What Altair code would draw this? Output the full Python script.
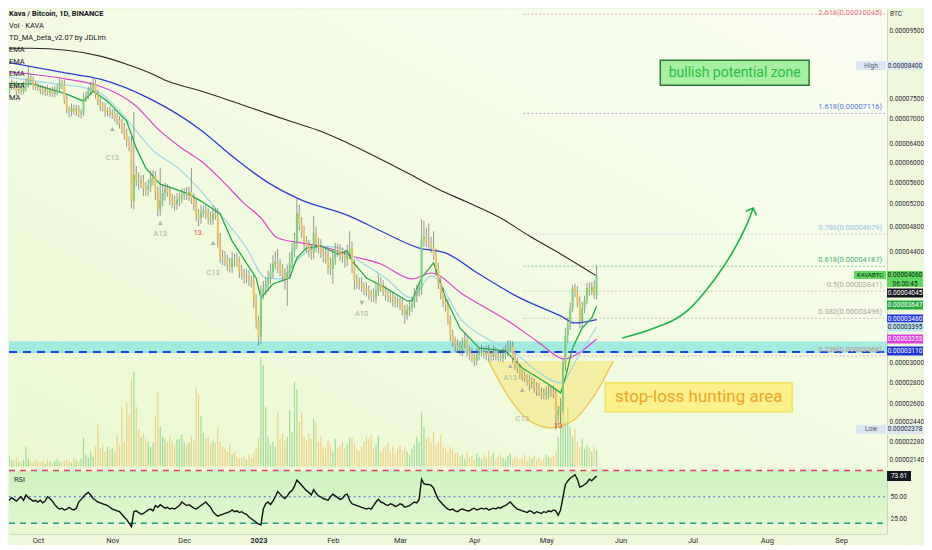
import altair as alt
import pandas as pd

SAT = 1e-8  # values below are in satoshi (1e-8 BTC)

# ---------------- daily candles (Sep 16 2022 -> May 22 2023) ----------------
START = "2022-09-16"
first_open = 7650
closes = [
    7700, 7760, 7650, 7800, 7880, 7820, 7700, 7740, 7680, 7790, 7900, 8050, 7980, 7850, 7800,
    7780, 7720, 7690, 7740, 7650, 7700, 7620, 7680, 7750, 7900,
    7860, 7450, 7200, 7150, 7250, 7180, 7220, 7100, 7130, 7500,
    7560, 7700, 7780, 7900, 7600, 7420, 7300, 7250, 7150, 7180,
    7100, 7120, 7000, 6950, 6880, 6750, 6600, 6450, 6380,
    5250, 5750, 5650, 5600, 5620, 5500, 5470, 5520, 5680, 5720,
    5400, 5100, 5260, 5400, 5480, 5420, 5300, 5250, 5190, 5280,
    5310, 5360, 5400, 5380, 5420, 5300, 5200, 5000, 4950, 5050,
    5080, 5040, 4960, 4930, 5020, 5000, 4600, 4340, 4300, 4280,
    4220, 4180, 4300, 4290, 4250, 4110, 4080, 4040, 4050, 3990,
    3970, 3720, 3470, 3280,
    3800, 3880, 3940, 4020, 4110, 4220, 4250, 4200, 4140, 4060,
    4010, 4100, 4240, 4420, 4560, 5030, 4850, 4720, 4560, 4480,
    4420, 4390, 4690, 4520, 4470, 4400, 4360, 4330, 4200, 4150,
    4300, 4440, 4410, 4380, 4330, 4290, 4380, 4460, 4200, 3990,
    3960, 3940, 3900, 3880, 3850, 3800, 3790, 3760, 3850, 3950,
    3900, 3840, 3800, 3770, 3750, 3730, 3700, 3690, 3680, 3600,
    3540, 3600, 3640, 3680, 3780, 3860, 3890, 4600, 4640, 4560,
    4520, 4480, 4350, 4150, 3950, 3820, 3700, 3660, 3480, 3300,
    3230, 3180, 3150, 3140, 3200, 3240, 3120, 3090, 3050, 3020,
    3080, 3100, 3110, 3090, 3120, 3070, 3060, 3100, 3080, 3060,
    3050, 3090, 3110, 3150, 3170, 3050, 2990, 2940, 2890, 2860,
    2840, 2820, 2780, 2800, 2750, 2730, 2710, 2690, 2680, 2700,
    2720, 2710, 2690, 2500, 2540, 2580, 2990, 3300, 3420, 3620,
    3880, 3820, 3700, 3460, 3620, 3720, 3880, 3850, 3900, 3790,
    4060,
]
wick_up = [
    120, 90, 150, 110, 130, 80, 140, 100, 90, 160, 140, 350, 120, 100, 90,
    110, 80, 130, 70, 120, 90, 100, 150, 120, 140,
    100, 130, 150, 90, 120, 80, 110, 100, 90, 140,
    120, 100, 150, 180, 110, 130, 90, 100, 120, 80,
    110, 100, 90, 120, 100, 110, 130, 150, 120,
    200, 1400, 180, 150, 120, 130, 110, 140, 160, 120,
    100, 120, 620, 150, 120, 90, 110, 80, 100, 120,
    100, 120, 90, 110, 100, 470, 90, 100, 110, 130,
    90, 120, 80, 100, 150, 110, 120, 100, 90, 110,
    80, 90, 100, 70, 90, 80, 100, 70, 90, 80,
    70, 90, 80, 60,
    120, 100, 90, 110, 120, 130, 160, 200, 90, 80,
    100, 110, 150, 120, 140, 260, 150, 120, 100, 90,
    110, 100, 290, 120, 100, 130, 90, 110, 100, 120,
    140, 100, 90, 110, 90, 100, 130, 270, 100, 90,
    80, 70, 90, 60, 80, 70, 60, 90, 100, 120,
    80, 90, 70, 60, 80, 70, 60, 70, 60, 80,
    60, 70, 80, 90, 100, 70, 80, 330, 260, 150,
    300, 120, 250, 100, 90, 80, 70, 60, 70, 50,
    60, 50, 70, 80, 70, 90, 60, 50, 60, 50,
    70, 60, 80, 50, 60, 70, 50, 80, 60, 50,
    60, 70, 80, 90, 70, 60, 50, 60, 50, 40,
    50, 40, 60, 50, 40, 50, 60, 40, 50, 60,
    50, 40, 60, 50, 40, 70, 60, 80, 90, 70,
    40, 60, 90, 70, 80, 60, 70, 80, 60, 90,
    140,
]
wick_dn = [
    100, 130, 90, 120, 80, 110, 140, 90, 100, 80, 110, 120, 100, 130, 90,
    90, 110, 100, 130, 80, 120, 90, 100, 110, 80,
    120, 100, 90, 140, 110, 100, 130, 90, 110, 80,
    100, 90, 120, 80, 110, 100, 130, 90, 120, 100,
    90, 110, 100, 120, 130, 110, 100, 120, 140,
    130, 150, 120, 140, 110, 160, 130, 120, 100, 140,
    130, 120, 110, 100, 140, 90, 120, 130, 110, 100,
    120, 100, 90, 110, 130, 100, 120, 110, 140, 100,
    90, 110, 120, 100, 90, 80, 130, 110, 100, 90,
    100, 80, 90, 110, 70, 90, 80, 100, 90, 80,
    80, 90, 100, 100,
    80, 70, 90, 100, 80, 90, 70, 110, 100, 90,
    150, 360, 80, 90, 100, 120, 110, 100, 120, 90,
    100, 110, 90, 120, 100, 90, 110, 100, 130, 90,
    210, 90, 80, 110, 90, 120, 100, 90, 110, 130,
    90, 80, 70, 90, 80, 70, 90, 60, 80, 70,
    70, 60, 80, 70, 60, 90, 70, 60, 80, 70,
    110, 60, 80, 70, 60, 80, 90, 100, 120, 90,
    80, 90, 70, 100, 80, 90, 70, 80, 60, 70,
    60, 70, 50, 60, 70, 50, 60, 70, 50, 60,
    50, 60, 40, 50, 70, 60, 50, 40, 60, 50,
    40, 50, 60, 50, 40, 60, 70, 50, 60, 50,
    40, 50, 60, 40, 50, 60, 40, 50, 40, 50,
    60, 50, 40, 122, 90, 110, 60, 80, 90, 60,
    50, 60, 70, 80, 80, 60, 50, 70, 60, 50,
    60,
]
volumes = [
    6, 9, 5, 11, 7, 6, 9, 5, 4, 7, 20, 8, 6, 5, 7,
    5, 4, 6, 3, 7, 5, 4, 6, 8, 5, 4, 6, 7, 5, 4, 9,
    6, 5, 8, 29,
    12, 9, 15, 10, 20, 42, 18, 22,
    15, 20, 17, 19, 16, 32, 22, 59,
    25, 64, 52, 88, 95, 60, 37,
    30, 33, 28, 25, 20, 24, 51, 75,
    40, 30, 28, 25, 30, 26, 22, 27,
    28, 32, 25, 22, 24, 30, 26,
    80, 72, 51, 34, 28,
    30, 22, 26, 24, 40, 25, 20, 18, 15, 22,
    12, 15, 10, 8, 9, 10, 7, 12, 9, 14, 18,
    29, 110, 102, 60,
    30, 22, 25, 20, 54, 28, 33, 26, 30, 57, 35, 85, 78, 45, 54, 30, 26, 33, 28, 48, 44,
    25, 30, 20, 18, 26, 22, 15, 28, 18, 21, 25, 19, 23, 29,
    29, 24, 18, 16, 20, 25, 30, 28, 32, 18,
    22, 30, 15, 18, 20, 24, 15, 20, 13, 18, 22, 16, 20, 15, 12, 18,
    22, 30, 25, 54, 40, 28, 30, 24, 35,
    22, 25, 32, 20, 18, 15, 20, 17, 13,
    14, 10, 12, 8, 15, 9, 11, 7, 13, 10, 8, 12, 9, 16, 11, 14, 8, 10, 12, 9, 7, 11, 13, 8, 10, 9,
    7, 9, 12, 6, 10, 8, 11, 7, 9, 6, 8, 12, 10, 9, 11, 15,
    30, 65, 70, 45, 60, 40,
    30, 38, 25, 20, 28, 18, 22, 19, 15, 20, 17,
]
rsi_values = [
    40, 37, 44, 46, 49, 47, 45, 48, 50, 46, 52, 49, 47, 45, 46,
    44, 46, 43, 45, 50, 48, 45, 41, 38, 36, 37, 35, 36, 38, 36, 35,
    37, 44, 47, 50, 53, 55, 52, 48, 46,
    44, 43, 42, 41, 40, 38, 36, 35, 34, 33, 30,
    27, 24, 20, 16, 33, 34,
    32, 30, 31, 33, 35, 36, 34, 40, 38,
    41, 39, 37, 38, 36, 37, 36, 38,
    40, 44, 42, 40, 41, 39, 37,
    36, 38, 40, 42, 44, 41, 38,
    33, 30, 28, 29, 30, 31, 32, 33,
    35, 33, 34, 32, 33, 31, 30,
    27, 25, 23, 21, 19, 18,
    36, 42, 44, 41, 45, 50, 56,
    53, 50, 48, 51, 55, 57,
    62, 69, 66, 63, 60, 57,
    55, 52, 58, 54, 51, 50,
    48, 47, 46, 50, 53, 51, 49, 47,
    48, 52, 53, 46, 42,
    41, 40, 39, 38, 37, 36, 37, 36, 40, 44, 47,
    44, 43, 41, 40, 42, 41, 39, 40, 42, 41, 38, 39,
    40, 42, 44, 43, 47,
    70, 65, 64, 64, 63, 60,
    53, 47, 44, 41, 38, 36, 35,
    36, 34, 33, 35, 36, 35, 34, 34, 36, 37, 35, 36, 37, 36, 37, 35, 36, 37, 36, 38,
    37, 39, 40, 42, 44, 41, 38, 36,
    35, 34, 33, 32, 34, 33, 31, 33, 32, 31, 33, 32, 34, 33, 35, 34,
    29, 35, 50, 64, 68, 71, 73,
    75, 70, 61, 62, 64, 66, 70, 68, 71, 73.61,
]

# ---------------- moving averages ----------------
ema200_dates = ["2022-09-16", "2022-09-28", "2022-10-13", "2022-10-27", "2022-11-07", "2022-11-17",
                "2022-11-24", "2022-12-08", "2022-12-21", "2023-01-02", "2023-01-14", "2023-01-27",
                "2023-02-08", "2023-02-21", "2023-03-05", "2023-03-17", "2023-03-28", "2023-04-12",
                "2023-04-24", "2023-05-07", "2023-05-22"]
ema200_vals = [8920, 8920, 8860, 8680, 8440, 8180, 7960, 7690, 7420, 7170, 6930, 6690,
               6400, 6070, 5765, 5470, 5250, 4950, 4650, 4370, 4050]

ema100_dates = ["2022-09-16", "2022-10-13", "2022-10-27", "2022-11-17", "2022-12-08", "2022-12-21",
                "2023-01-04", "2023-01-18", "2023-02-08", "2023-02-21", "2023-03-09", "2023-03-20",
                "2023-04-03", "2023-04-20", "2023-05-07", "2023-05-13", "2023-05-22"]
ema100_vals = [8528, 8181, 8014, 7476, 6714, 6136, 5627, 5287, 4984, 4732, 4461, 4385,
               4076, 3752, 3525, 3440, 3480]

ema50_dates = ["2022-09-16", "2022-10-13", "2022-10-27", "2022-11-10", "2022-11-21", "2022-11-30",
               "2022-12-08", "2022-12-17", "2022-12-25", "2023-01-02", "2023-01-09", "2023-01-22",
               "2023-01-30", "2023-02-09", "2023-02-21", "2023-03-06", "2023-03-14", "2023-03-27",
               "2023-04-17", "2023-04-27", "2023-05-09", "2023-05-14", "2023-05-22"]
ema50_vals = [8238, 8014, 7820, 7347, 6691, 6308, 6031, 5627, 5250, 4950, 4619, 4523,
              4461, 4339, 4221, 4008, 4091, 3804, 3428, 3232, 3037, 3090, 3253]

ema21_dates = ["2022-09-16", "2022-10-06", "2022-10-23", "2022-10-27", "2022-11-03", "2022-11-11",
               "2022-11-17", "2022-11-30", "2022-12-08", "2022-12-16", "2022-12-27", "2023-01-04",
               "2023-01-10", "2023-01-18", "2023-01-27", "2023-02-04", "2023-02-12", "2023-02-23",
               "2023-03-06", "2023-03-14", "2023-03-27", "2023-04-08", "2023-04-17", "2023-04-27",
               "2023-05-07", "2023-05-14", "2023-05-22"]
ema21_vals = [8097, 7902, 7739, 7632, 7246, 6691, 6308, 5825, 5435, 5019, 4461, 4021,
              4008, 4310, 4492, 4461, 4265, 4021, 3752, 4049, 3464, 3232, 3122, 2913,
              2795, 3047, 3395]

td_ma_dates = ["2022-09-16", "2022-09-29", "2022-10-13", "2022-10-20", "2022-10-24", "2022-10-30",
               "2022-11-07", "2022-11-11", "2022-11-15", "2022-11-21", "2022-11-26", "2022-12-03",
               "2022-12-08", "2022-12-16", "2022-12-21", "2022-12-31", "2023-01-02", "2023-01-07",
               "2023-01-14", "2023-01-17", "2023-01-21", "2023-01-27", "2023-02-03", "2023-02-07",
               "2023-02-09", "2023-02-15", "2023-02-23", "2023-03-04", "2023-03-06", "2023-03-10",
               "2023-03-15", "2023-03-20", "2023-03-26", "2023-04-03", "2023-04-14", "2023-04-21",
               "2023-05-01", "2023-05-07", "2023-05-09", "2023-05-12", "2023-05-16", "2023-05-20",
               "2023-05-22"]
td_ma_vals = [7902, 7875, 7607, 7424, 7685, 7424, 6927, 6308, 5886, 5569, 5492, 5379,
              5250, 5019, 4570, 4021, 3752, 3938, 4021, 4310, 4461, 4492, 4369, 4415,
              4265, 4021, 3885, 3713, 3713, 4021, 4236, 3752, 3381, 3155, 3122, 2943,
              2795, 2699, 2843, 3155, 3381, 3500, 3647]

# ---------------- fibonacci & levels ----------------
fib_levels = ["2.618", "1.618", "0.786", "0.618", "0.5", "0.382", "0.236"]
fib_prices = [10045, 7116, 4679, 4187, 3841, 3496, 3068]
fib_colors = ["#ef6b8a", "#5577dd", "#8fc3ea", "#45ad78", "#9bb58a", "#a3a99c", "#c99090"]
fib_start = "2023-04-21T12:00:00Z"
fib_end = "2023-09-20T04:00:00Z"
support_band = [3100, 3225]
support_line = 3110

# ---------------- annotations ----------------
bowl_dates = ["2023-04-07", "2023-04-10", "2023-04-14", "2023-04-18", "2023-04-24", "2023-05-03",
              "2023-05-12", "2023-05-18", "2023-05-22", "2023-05-26", "2023-05-29"]
bowl_low = [3016, 2873, 2709, 2581, 2450, 2391, 2450, 2581, 2709, 2873, 3016]
bowl_top = 3016

arrow_dates = ["2023-06-01T18:00:00Z", "2023-06-14T00:00:00Z", "2023-06-28T19:00:00Z",
               "2023-07-09T17:00:00Z", "2023-07-18T00:00:00Z", "2023-07-24T06:00:00Z",
               "2023-07-26T08:00:00Z"]
arrow_prices = [3266, 3369, 3586, 3979, 4415, 4898, 5124]

td_text = ["▲", "C13", "▲", "A13", "13.", "▲", "C13", "▼", "A10", "▲", "A13", "▲", "C13", "13"]
td_dates = ["2022-11-01", "2022-11-01", "2022-11-21", "2022-11-21", "2022-12-07", "2022-12-13",
            "2022-12-13", "2023-02-13", "2023-02-13", "2023-04-16", "2023-04-16", "2023-04-21",
            "2023-04-21", "2023-05-06"]
td_prices = [6737, 6094, 4864, 4683, 4699, 4539, 4091, 3688, 3549, 2965, 2843, 2727, 2467, 2408]
td_colors = ["#a7b2a3", "#a7b2a3", "#a7b2a3", "#a7b2a3", "#e5483f", "#a7b2a3", "#a7b2a3",
             "#a7b2a3", "#a7b2a3", "#a7b2a3", "#a7b2a3", "#a7b2a3", "#a7b2a3", "#e5483f"]

note_text = ["bullish potential zone", "stop-loss hunting area"]
note_dates = ["2023-07-18T15:00:00Z", "2023-07-03T15:00:00Z"]
note_prices = [8195, 2658]

legend_lines = ["Kava / Bitcoin, 1D, BINANCE", "Vol · KAVA", "TD_MA_beta_v2.07 by JDLim",
                "EMA", "EMA", "EMA", "EMA", "MA"]

price_ticks = [2140, 2280, 2440, 2600, 2800, 3000, 4400, 4800, 5200, 5600, 6000, 6400, 7000, 7500, 9500]

# right-hand price tags: shown value, drawn position
tag_text = ["0.00004045", "0.00003647", "0.00003480", "0.00003395", "0.00003253", "0.00003110"]
tag_pos = [3818, 3662, 3488, 3395, 3254, 3122]
tag_bg = ["#131722", "#22ab3f", "#2437e0", "#b9e4f3", "#e03ddf", "#1f35d8"]
tag_fg = ["#ffffff", "#ffffff", "#ffffff", "#1a1a1a", "#ffffff", "#ffffff"]
last_price = 4060
last_price_pos = [4007, 4063, 3938]
high_price, low_price = 8400, 2378
rsi_levels = [80, 50, 20]
rsi_last = 73.61

# ---------------- build tables ----------------
dates = pd.date_range(START, periods=len(closes), freq="D").strftime("%Y-%m-%d").tolist()
opens = [first_open] + closes[:-1]
highs = [max(o, c) + u for o, c, u in zip(opens, closes, wick_up)]
lows = [min(o, c) - d for o, c, d in zip(opens, closes, wick_dn)]
candles = pd.DataFrame({
    "date": dates,
    "open": [v * SAT for v in opens],
    "close": [v * SAT for v in closes],
    "high": [v * SAT for v in highs],
    "low": [v * SAT for v in lows],
    "dir": ["up" if c >= o else "down" for o, c in zip(opens, closes)],
    "vol": volumes,
    "rsi": rsi_values,
})

FONT = "Roboto"
W, H_PRICE, H_RSI = 879, 458, 64
TAG_X, TAG_W = 897, 36
XS = alt.Scale(type="utc", padding=0,
               domain=[alt.DateTime(year=2022, month=9, date=18, hours=22, utc=True),
                       alt.DateTime(year=2023, month=9, date=20, hours=4, utc=True)])
YS = alt.Scale(type="log", domain=[2.0887e-5, 1.0211e-4], nice=False, zero=False, padding=0)
YAXIS = alt.Axis(orient="right", values=[v * SAT for v in price_ticks], format=".8f", title=None,
                 grid=False, ticks=False, labelFontSize=6.5, labelColor="#2a2e39", labelPadding=2,
                 domainColor="#c9d3bf", labelFont=FONT)


def px(field):
    return alt.X(field, type="temporal", scale=XS, axis=None)


def py(field):
    return alt.Y(field, type="quantitative", scale=YS, axis=YAXIS)


def box_shape(half_h):
    return f"M-1,-{half_h}L1,-{half_h}L1,{half_h}L-1,{half_h}Z"


one = pd.DataFrame({"k": [0]})

# background gradient
bg_grad = alt.LinearGradient(gradient="linear", x1=1, y1=0, x2=0, y2=1,
                             stops=[alt.GradientStop(color="#fafef2", offset=0),
                                    alt.GradientStop(color="#eaf8d2", offset=1)])
bg_price = alt.Chart(one).mark_rect(fill=bg_grad).encode(
    x=alt.value(0), x2=alt.value("width"), y=alt.value(0), y2=alt.value("height"))

# volume
vol_layer = alt.Chart(candles).mark_bar(size=1.2, opacity=0.7, clip=True).encode(
    x=px("date"),
    y=alt.Y("vol:Q", scale=alt.Scale(domain=[0, H_PRICE], padding=0, nice=False), axis=None),
    color=alt.Color("dir:N", scale=alt.Scale(domain=["up", "down"], range=["#7ccf7c", "#f0c060"]), legend=None),
)

band_df = pd.DataFrame({"lo": [support_band[0] * SAT], "hi": [support_band[1] * SAT]})
band = alt.Chart(band_df).mark_rect(color="#86e6df", opacity=0.75).encode(
    x=alt.value(0), x2=alt.value("width"), y=py("lo"), y2="hi")
sup_line = alt.Chart(pd.DataFrame({"p": [support_line * SAT]})).mark_rule(
    color="#1f3fe6", strokeWidth=2, strokeDash=[8, 6]).encode(
    x=alt.value(0), x2=alt.value("width"), y=py("p"))

fib_df = pd.DataFrame({
    "start": [fib_start] * len(fib_levels), "end": [fib_end] * len(fib_levels),
    "p": [v * SAT for v in fib_prices], "c": fib_colors,
    "label": [f"{l}({v * SAT:.8f})" for l, v in zip(fib_levels, fib_prices)],
})
fib_rules = alt.Chart(fib_df).mark_rule(strokeWidth=1, strokeDash=[2, 2], opacity=0.6).encode(
    x=px("start"), x2="end", y=py("p"), color=alt.Color("c:N", scale=None))
# the top label sits flush with the top edge of the panel
fib_text_top = alt.Chart(fib_df.iloc[[0]]).mark_text(align="right", baseline="top", dx=-5, dy=-5,
                                                     fontSize=7.5, font=FONT).encode(
    x=px("end"), y=py("p"), text="label:N", color=alt.Color("c:N", scale=None))
fib_text = alt.Chart(fib_df.iloc[1:]).mark_text(align="right", baseline="bottom", dx=-5, dy=-2,
                                                fontSize=7.5, font=FONT).encode(
    x=px("end"), y=py("p"), text="label:N", color=alt.Color("c:N", scale=None))


def ma_line(ds, vs, color, width=1.2, interp="monotone"):
    df = pd.DataFrame({"date": ds, "p": [v * SAT for v in vs]})
    return alt.Chart(df).mark_line(color=color, strokeWidth=width, interpolate=interp, clip=True).encode(
        x=px("date"), y=py("p"))


ema200 = ma_line(ema200_dates, ema200_vals, "#2b2b2b", 1.1)
ema100 = ma_line(ema100_dates, ema100_vals, "#2c3fd4", 1.3)
ema50 = ma_line(ema50_dates, ema50_vals, "#e23fcf", 1.2)
ema21 = ma_line(ema21_dates, ema21_vals, "#9fd6e6", 1.2)
td_ma = ma_line(td_ma_dates, td_ma_vals, "#1fae45", 1.3, "linear")

DIR_COLORS = alt.Scale(domain=["up", "down"], range=["#3a9a42", "#f05a55"])
wicks = alt.Chart(candles).mark_rule(strokeWidth=0.7, clip=True, color="#707070").encode(
    x=px("date"), y=py("low"), y2="high")
bodies = alt.Chart(candles).mark_bar(size=2.0, clip=True).encode(
    x=px("date"), y=py("open"), y2="close",
    color=alt.Color("dir:N", scale=DIR_COLORS, legend=None))

bowl_df = pd.DataFrame({"date": bowl_dates, "low": [v * SAT for v in bowl_low],
                        "top": [bowl_top * SAT] * len(bowl_dates)})
bowl_area = alt.Chart(bowl_df).mark_area(color="#fae36c", opacity=0.5, interpolate="monotone").encode(
    x=px("date"), y=py("low"), y2="top")
bowl_line = alt.Chart(bowl_df).mark_line(color="#efc04a", strokeWidth=1.2, interpolate="monotone").encode(
    x=px("date"), y=py("low"))

td_df = pd.DataFrame({"date": td_dates, "p": [v * SAT for v in td_prices], "t": td_text, "c": td_colors})
td_labels = alt.Chart(td_df).mark_text(fontSize=7.5, font=FONT).encode(
    x=px("date"), y=py("p"), text="t:N", color=alt.Color("c:N", scale=None))

arrow_df = pd.DataFrame({"date": arrow_dates, "p": [v * SAT for v in arrow_prices]})
arrow = alt.Chart(arrow_df).mark_line(color="#1fb34a", strokeWidth=1.6, interpolate="monotone").encode(
    x=px("date"), y=py("p"))
arrow_head = alt.Chart(arrow_df.tail(1)).mark_point(
    shape="M-0.7,0.7L0,0L0.7,0.7", size=260, filled=False, color="#1fb34a", strokeWidth=1.6,
    angle=21, opacity=1).encode(x=px("date"), y=py("p"))

note_df = pd.DataFrame({"date": note_dates, "p": [v * SAT for v in note_prices], "t": note_text})
bull_box = alt.Chart(note_df.iloc[[0]]).mark_point(
    shape=box_shape(0.168), size=149 ** 2, filled=True, fill="#a9efa2", stroke="#2b7a33",
    strokeWidth=1.5, opacity=1).encode(x=px("date"), y=py("p"))
bull_txt = alt.Chart(note_df.iloc[[0]]).mark_text(fontSize=14, font=FONT, color="#27bf45").encode(
    x=px("date"), y=py("p"), text="t:N")
stop_box = alt.Chart(note_df.iloc[[1]]).mark_point(
    shape=box_shape(0.155), size=187 ** 2, filled=True, fill="#fdf083", stroke="#f3e04c",
    strokeWidth=1.5, opacity=0.9).encode(x=px("date"), y=py("p"))
stop_txt = alt.Chart(note_df.iloc[[1]]).mark_text(fontSize=17, font=FONT, color="#f3a325").encode(
    x=px("date"), y=py("p"), text="t:N")

legend_df = pd.DataFrame({"t": legend_lines, "i": list(range(len(legend_lines)))})
legend_first = alt.Chart(legend_df.iloc[[0]]).mark_text(
    align="left", baseline="middle", fontSize=7.5, fontWeight="bold", font=FONT, color="#131722").encode(
    x=alt.value(0), y=alt.value(5), text="t:N")
legend_rest = [
    alt.Chart(legend_df.iloc[[i]]).mark_text(
        align="left", baseline="middle", fontSize=7.5, font=FONT, color="#131722").encode(
        x=alt.value(0), y=alt.value(5 + 12 * i), text="t:N")
    for i in range(1, len(legend_lines))
]

# right-hand tags
tag_df = pd.DataFrame({"p": [v * SAT for v in tag_pos], "t": tag_text, "bg": tag_bg, "fg": tag_fg})
tag_boxes = alt.Chart(tag_df).mark_point(shape=box_shape(0.25), size=TAG_W ** 2, filled=True, opacity=1).encode(
    x=alt.value(TAG_X), y=py("p"), color=alt.Color("bg:N", scale=None))
tag_texts = alt.Chart(tag_df).mark_text(fontSize=6.5, font=FONT).encode(
    x=alt.value(TAG_X), y=py("p"), text="t:N", color=alt.Color("fg:N", scale=None))

last_df = pd.DataFrame({"p": [v * SAT for v in last_price_pos],
                        "t": ["", f"{last_price * SAT:.8f}", "06:00:45"]})
last_box = alt.Chart(last_df.iloc[[0]]).mark_point(shape=box_shape(0.444), size=TAG_W ** 2, filled=True,
                                                   opacity=1, color="#5fd65f").encode(x=alt.value(TAG_X), y=py("p"))
last_txt = alt.Chart(last_df.iloc[[1, 2]]).mark_text(fontSize=6.5, font=FONT, color="#0c2b0c").encode(
    x=alt.value(TAG_X), y=py("p"), text="t:N")
sym_box = alt.Chart(last_df.iloc[[1]]).mark_point(shape=box_shape(0.25), size=32 ** 2, filled=True,
                                                  opacity=1, color="#5fd65f").encode(x=alt.value(862), y=py("p"))
sym_txt = alt.Chart(pd.DataFrame({"p": [last_price_pos[1] * SAT], "t": ["KAVABTC"]})).mark_text(
    fontSize=6, font=FONT, color="#0c2b0c").encode(x=alt.value(862), y=py("p"), text="t:N")

hl_df = pd.DataFrame({"p": [high_price * SAT, low_price * SAT], "tag": ["High", "Low"],
                      "v": [f"{high_price * SAT:.8f}", f"{low_price * SAT:.8f}"]})
hl_box = alt.Chart(hl_df).mark_point(shape=box_shape(0.25), size=TAG_W ** 2, filled=True, opacity=1,
                                     color="#dbe6f3").encode(x=alt.value(TAG_X), y=py("p"))
hl_txt = alt.Chart(hl_df).mark_text(fontSize=6.5, font=FONT, color="#2a2e39").encode(
    x=alt.value(TAG_X), y=py("p"), text="v:N")
hl_tagbox = alt.Chart(hl_df).mark_point(shape=box_shape(0.3), size=30 ** 2, filled=True, opacity=1,
                                        color="#dbe6f3").encode(x=alt.value(863), y=py("p"))
hl_tagtxt = alt.Chart(hl_df).mark_text(fontSize=6.5, font=FONT, color="#555a66").encode(
    x=alt.value(863), y=py("p"), text="tag:N")
btc_txt = alt.Chart(pd.DataFrame({"t": ["BTC"]})).mark_text(
    align="left", baseline="middle", fontSize=6.5, font=FONT, color="#2a2e39").encode(
    x=alt.value(882), y=alt.value(5), text="t:N")

price_marks = alt.layer(
    band, sup_line, fib_rules, fib_text_top, fib_text, bowl_area, bowl_line,
    ema200, ema100, ema50, ema21, td_ma, wicks, bodies, td_labels,
    arrow, arrow_head, bull_box, bull_txt, stop_box, stop_txt,
    legend_first, *legend_rest,
    tag_boxes, tag_texts, last_box, last_txt, sym_box, sym_txt,
    hl_box, hl_txt, hl_tagbox, hl_tagtxt, btc_txt,
)
price_panel = alt.layer(bg_price, vol_layer, price_marks).resolve_scale(y="independent").properties(
    width=W, height=H_PRICE)

# ---------------- RSI panel ----------------
month_ticks = [alt.DateTime(year=y, month=m, date=1, utc=True)
               for y, m in [(2022, 10), (2022, 11), (2022, 12), (2023, 1), (2023, 2), (2023, 3),
                            (2023, 4), (2023, 5), (2023, 6), (2023, 7), (2023, 8), (2023, 9)]]
XAXIS = alt.Axis(values=month_ticks, title=None, grid=False, ticks=False, labelFontSize=7.5,
                 labelFont=FONT, labelColor="#2a2e39", labelPadding=3, domainColor="#c9d3bf",
                 labelExpr="utcmonth(datum.value) == 0 ? utcFormat(datum.value, '%Y') : utcFormat(datum.value, '%b')",
                 labelFontWeight={"condition": {"test": "utcmonth(datum.value) == 0", "value": "bold"},
                                  "value": "normal"})
RS = alt.Scale(domain=[7.95, 80.68], nice=False, zero=False, padding=0)
RAXIS = alt.Axis(orient="right", values=[25, 50], format=".2f", title=None, grid=False, ticks=False,
                 labelFontSize=6.5, labelColor="#2a2e39", labelPadding=3, domainColor="#c9d3bf", labelFont=FONT)


def rx(field):
    return alt.X(field, type="temporal", scale=XS, axis=XAXIS)


def ry(field):
    return alt.Y(field, type="quantitative", scale=RS, axis=RAXIS)


bg_rsi = alt.Chart(one).mark_rect(fill="#eaf8d3").encode(
    x=alt.value(0), x2=alt.value("width"), y=alt.value(0), y2=alt.value("height"))
rsi_band_grad = alt.LinearGradient(gradient="linear", x1=0, y1=0, x2=0, y2=1,
                                   stops=[alt.GradientStop(color="#cdf3c0", offset=0),
                                          alt.GradientStop(color="#e0f8cf", offset=1)])
rsi_band_df = pd.DataFrame({"hi": [rsi_levels[0]], "lo": [rsi_levels[2]]})
rsi_band = alt.Chart(rsi_band_df).mark_rect(fill=rsi_band_grad).encode(
    x=alt.value(0), x2=alt.value("width"), y=ry("hi"), y2="lo")
rsi_top = alt.Chart(rsi_band_df).mark_rect(fill="#ffffff", opacity=0.85).encode(
    x=alt.value(0), x2=alt.value("width"), y=ry("hi"), y2=alt.value(0))
lvl_df = pd.DataFrame({"v": rsi_levels})
rsi_rule_hi = alt.Chart(lvl_df.iloc[[0]]).mark_rule(color="#e0405e", strokeWidth=1.5, strokeDash=[6, 5]).encode(
    x=alt.value(0), x2=alt.value("width"), y=ry("v"))
rsi_rule_mid = alt.Chart(lvl_df.iloc[[1]]).mark_rule(color="#5566dd", strokeWidth=1, strokeDash=[2, 3]).encode(
    x=alt.value(0), x2=alt.value("width"), y=ry("v"))
rsi_rule_lo = alt.Chart(lvl_df.iloc[[2]]).mark_rule(color="#1c9c82", strokeWidth=1.5, strokeDash=[6, 5]).encode(
    x=alt.value(0), x2=alt.value("width"), y=ry("v"))
rsi_line = alt.Chart(candles).mark_line(color="#111111", strokeWidth=1.4, clip=True).encode(
    x=rx("date"), y=ry("rsi"))
rsi_title = alt.Chart(pd.DataFrame({"t": ["RSI"]})).mark_text(
    align="left", baseline="middle", fontSize=7.5, font=FONT, color="#2a2e39").encode(
    x=alt.value(5), y=alt.value(10), text="t:N")
rsi_last_df = pd.DataFrame({"v": [rsi_last], "t": [f"{rsi_last:.2f}"]})
rsi_last_box = alt.Chart(rsi_last_df).mark_point(shape=box_shape(0.42), size=24 ** 2, filled=True,
                                                 opacity=1, color="#131722").encode(x=alt.value(891), y=ry("v"))
rsi_last_txt = alt.Chart(rsi_last_df).mark_text(fontSize=6.5, font=FONT, color="#ffffff").encode(
    x=alt.value(891), y=ry("v"), text="t:N")

rsi_panel = alt.layer(bg_rsi, rsi_band, rsi_top, rsi_rule_hi, rsi_rule_mid, rsi_rule_lo,
                      rsi_line, rsi_title, rsi_last_box, rsi_last_txt).properties(width=W, height=H_RSI)

chart = alt.vconcat(price_panel, rsi_panel, spacing=2).resolve_scale(
    x="shared", y="independent").properties(
    padding={"left": 0, "top": 0, "right": 0, "bottom": 0}).configure(
    background="#eef9db").configure_view(stroke=None)

chart.save("out.html", embed_options={"renderer": "svg", "actions": False})
